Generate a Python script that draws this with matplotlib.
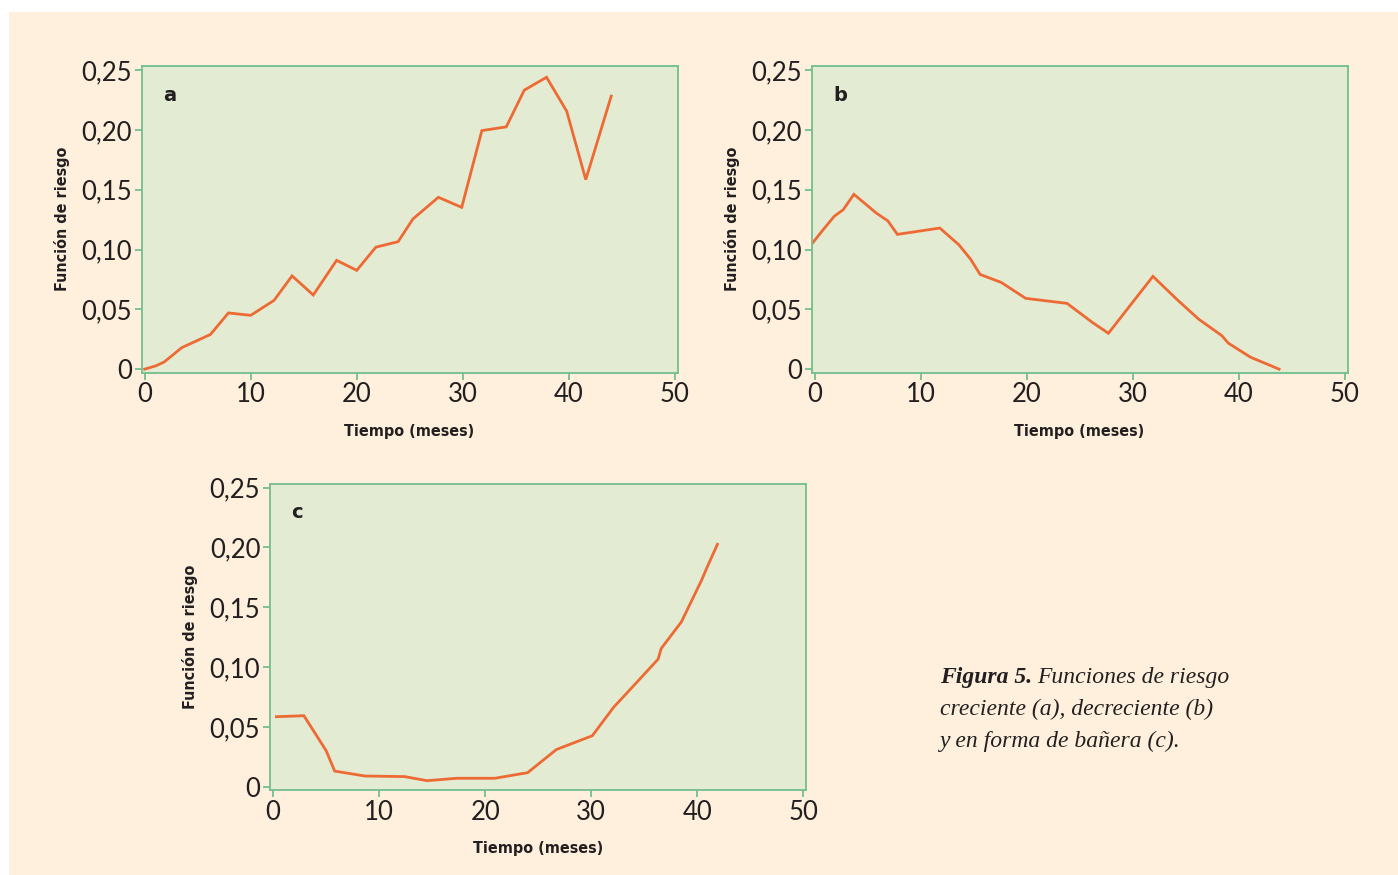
import matplotlib
matplotlib.use("Agg")
import matplotlib.pyplot as plt
from matplotlib.patches import Rectangle
from matplotlib.ticker import FuncFormatter

# ---- data ----
xa = [0, 1.06, 1.84, 3.5, 6.2, 7.9, 10, 12.2, 13.9, 15.9, 18.1, 20, 21.8, 23.9,
      25.3, 27.7, 29.9, 31.8, 34.1, 35.8, 37.9, 39.8, 41.6, 44]
ya = [0, 0.0028, 0.006, 0.018, 0.029, 0.047, 0.045, 0.0575, 0.078, 0.062, 0.091,
      0.0826, 0.102, 0.1066, 0.1256, 0.1437, 0.1353, 0.1995, 0.2026, 0.2333,
      0.2441, 0.2157, 0.1585, 0.2283]

xb = [-0.2, 0.8, 1.84, 2.7, 3.7, 5.8, 6.9, 7.8, 11.8, 13.6, 14.7, 15.6, 17.6,
      19.9, 23.8, 26.2, 27.7, 31.9, 34.2, 36.2, 38.4, 39.0, 41.1, 43.8]
yb = [0.1055, 0.1166, 0.1278, 0.1334, 0.1462, 0.1306, 0.124, 0.1127, 0.118,
      0.104, 0.092, 0.0792, 0.0725, 0.0592, 0.055, 0.039, 0.030, 0.0776, 0.058,
      0.0419, 0.028, 0.0218, 0.010, 0.0]

xc = [0.3, 2.9, 5.0, 5.8, 8.65, 12.4, 14.5, 17.3, 20.9, 24.0, 26.7, 30.1, 32.1,
      34.4, 36.3, 36.6, 38.5, 40.4, 40.9, 41.9]
yc = [0.0585, 0.0593, 0.030, 0.013, 0.0089, 0.0084, 0.005, 0.007, 0.007, 0.0117,
      0.031, 0.0426, 0.0663, 0.0883, 0.1066, 0.1156, 0.1378, 0.1726, 0.183, 0.2027]

xticks = [0, 10, 20, 30, 40, 50]
yticks = [0, 0.05, 0.10, 0.15, 0.20, 0.25]
panel_letters = ["a", "b", "c"]
xlabel = "Tiempo (meses)"
ylabel = "Función de riesgo"
caption_bold = "Figura 5."
caption_lines = ["Funciones de riesgo", "creciente (a), decreciente (b)",
                 "y en forma de bañera (c)."]

BG = "#FEF0DC"
AXBG = "#E3EBD2"
SPINE = "#72BE8E"
LINE = "#EE6A35"
TXT = "#231F20"

W, H = 1398, 875
fig = plt.figure(figsize=(W / 100, H / 100), dpi=100, facecolor="white")
fig.patches.append(Rectangle((9 / W, 0), 1 - 9 / W, 1 - 12 / H,
                             transform=fig.transFigure, facecolor=BG,
                             edgecolor="none", zorder=-10))


def ax_rect(left, top, right, bottom):
    return [left / W, 1 - bottom / H, (right - left) / W, (bottom - top) / H]


def fmt(v, pos):
    if abs(v) < 1e-9:
        return "0"
    return f"{v:.2f}".replace(".", ",")


rects = [ax_rect(141.5, 66, 677.5, 372.5),
         ax_rect(811.5, 66, 1347.5, 372.5),
         ax_rect(270, 483.5, 806, 790)]
datasets = [(xa, ya), (xb, yb), (xc, yc)]

label_font = dict(family="DejaVu Sans", stretch="condensed", weight="bold", size=11.5)

for rect, (x, y), letter in zip(rects, datasets, panel_letters):
    ax = fig.add_axes(rect)
    ax.set_facecolor(AXBG)
    ax.plot(x, y, color=LINE, lw=2.0, solid_joinstyle="miter")
    ax.set_xlim(-0.3, 50.25)
    ax.set_ylim(-0.0028, 0.2535)
    ax.set_xticks(xticks)
    ax.set_yticks(yticks)
    ax.yaxis.set_major_formatter(FuncFormatter(fmt))
    for s in ax.spines.values():
        s.set_color(SPINE)
        s.set_linewidth(1.3)
    ax.tick_params(axis="both", color=SPINE, length=5, width=1.3,
                   labelcolor=TXT, pad=2)
    for lab in ax.get_xticklabels() + ax.get_yticklabels():
        lab.set_fontfamily(["Lato", "DejaVu Sans"])
        lab.set_fontweight("normal")
        lab.set_fontsize(18.5)
    ax.set_xlabel(xlabel, color=TXT, labelpad=12, **label_font)
    ax.set_ylabel(ylabel, color=TXT, labelpad=8, **label_font)
    ax.text(0.040, 0.905, letter, transform=ax.transAxes, color=TXT,
            fontsize=14, fontweight="bold", family="DejaVu Sans",
            ha="left", va="center")

# caption
cap_x = 940 / W
fs = 17
t1 = fig.text(cap_x, 1 - 683 / H, caption_bold, fontsize=fs, family="Liberation Serif",
              style="italic", weight="bold", color=TXT, va="baseline")
fig.canvas.draw()
bb = t1.get_window_extent()
fig.text((bb.x1 + 5) / W, 1 - 683 / H, caption_lines[0], fontsize=fs,
         family="Liberation Serif", style="italic", color=TXT, va="baseline")
fig.text(cap_x, 1 - 715 / H, caption_lines[1], fontsize=fs,
         family="Liberation Serif", style="italic", color=TXT, va="baseline")
fig.text(cap_x, 1 - 747 / H, caption_lines[2], fontsize=fs,
         family="Liberation Serif", style="italic", color=TXT, va="baseline")

fig.savefig("out.png", dpi=100, facecolor=fig.get_facecolor())
